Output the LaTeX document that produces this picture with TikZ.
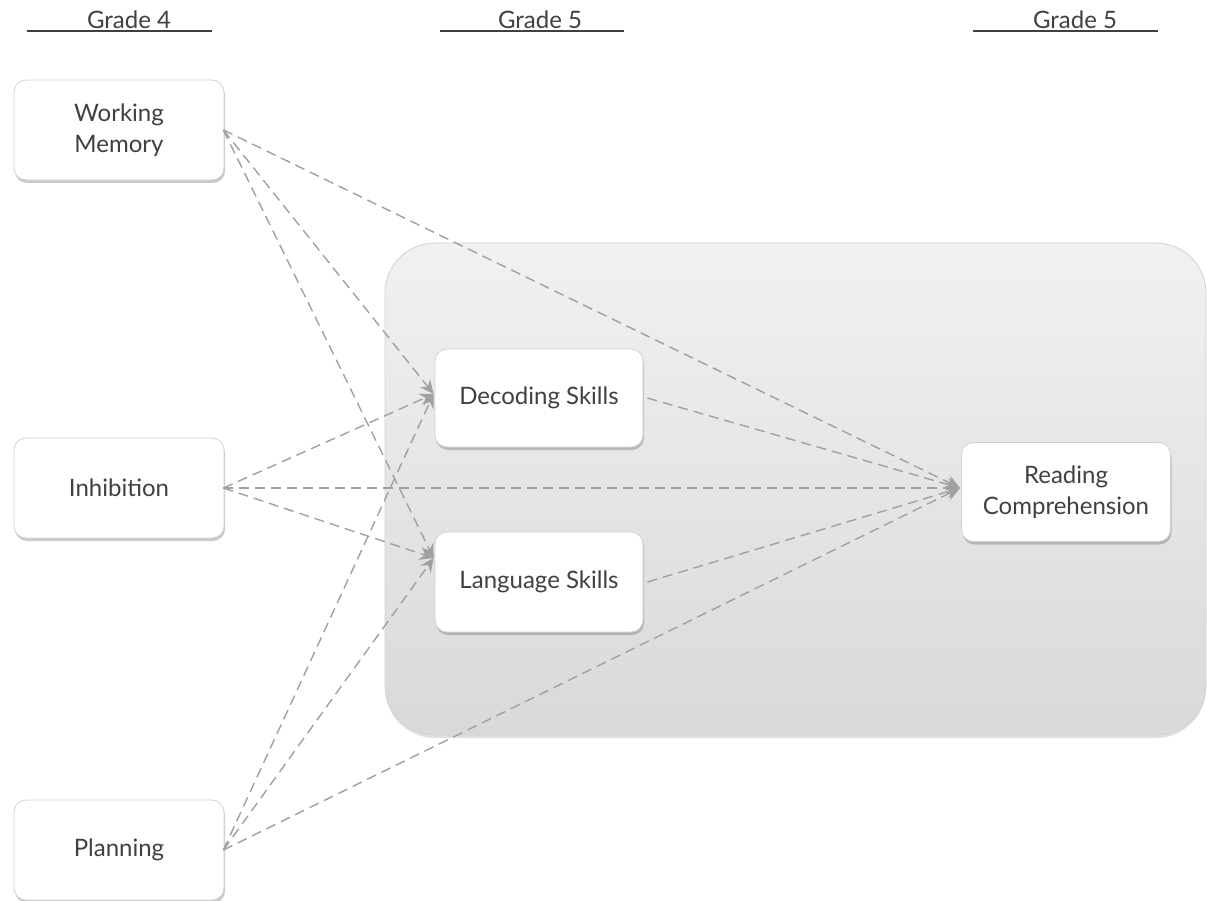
\documentclass[tikz,border=0pt]{standalone}
\usepackage{fontspec}
\setmainfont{Lato}
\usetikzlibrary{arrows.meta,shadows,backgrounds}

\definecolor{txt}{HTML}{404040}
\definecolor{edge}{HTML}{A0A0A0}
\definecolor{boxline}{HTML}{D2D2D2}
\definecolor{paneltop}{HTML}{F1F1F1}
\definecolor{panelbot}{HTML}{D9D9D9}

\tikzset{
  varbox/.style={draw=boxline, line width=0.8pt, fill=white,
    rounded corners=12pt, minimum width=210pt, minimum height=100pt,
    align=center, text=txt, font=\fontsize{24}{31}\selectfont,
    drop shadow={shadow xshift=1pt, shadow yshift=-3pt, opacity=0.35, fill=black!60}},
  path/.style={draw=edge, line width=1.4pt, dash pattern=on 10pt off 6pt,
    -{Stealth[length=14pt, width=13pt, inset=5pt]}},
  grade/.style={text=txt, font=\fontsize{24}{29}\selectfont, anchor=base},
  rule/.style={draw=black!75, line width=1.4pt}
}

\begin{document}
\begin{tikzpicture}[x=1pt, y=-1pt]
  \useasboundingbox (0,0) rectangle (1207,901);

  % grade headings with their rules
  \node[grade] (g4) at (129,29) {Grade 4};
  \node[grade] (g5a) at (540,29) {Grade 5};
  \node[grade] (g5b) at (1075,29) {Grade 5};
  \draw[rule] (27,31) coordinate (g4l) -- (212,31) coordinate (g4r);
  \draw[rule] (440,31) coordinate (g5al) -- (624,31) coordinate (g5ar);
  \draw[rule] (973,31) coordinate (g5bl) -- (1158,31) coordinate (g5br);

  % grade 4 predictors
  \node[varbox] (wm)   at (119,130) {Working\\Memory};
  \node[varbox] (inh)  at (119,488) {Inhibition};
  \node[varbox] (plan) at (119,850) {Planning};

  % grade 5 mediators and outcome
  \node[varbox, minimum width=208pt, minimum height=98pt] (dec)  at (539,398) {Decoding Skills};
  \node[varbox, minimum width=208pt, minimum height=100pt] (lang) at (539,582) {Language Skills};
  \node[varbox, minimum width=209pt, minimum height=99pt] (rc)  at (1066,492) {Reading\\Comprehension};

  % shaded panel behind the grade 5 measures
  \begin{scope}[on background layer]
    \draw[draw=boxline, line width=0.8pt, rounded corners=50pt,
      top color=paneltop, bottom color=panelbot,
      drop shadow={shadow xshift=0pt, shadow yshift=-3pt, opacity=0.25, fill=black!50}]
      (385,243) rectangle (1206,735);
  \end{scope}

  % paths
  \coordinate (decin)  at ([xshift=-1pt,yshift=4pt]dec.west);
  \coordinate (langin) at ([xshift=-1pt,yshift=24pt]lang.west);
  \coordinate (rcin)   at ([xshift=-1pt,yshift=4pt]rc.west);

  \foreach \s in {wm,inh,plan} {
    \draw[path] ([xshift=-1pt]\s.east) -- (decin);
    \draw[path] ([xshift=-1pt]\s.east) -- (langin);
    \draw[path] ([xshift=-1pt]\s.east) -- (rcin);
  }
  \draw[path] ([xshift=4pt]dec.east) -- (rcin);
  \draw[path] ([xshift=4pt]lang.east) -- (rcin);
\end{tikzpicture}
\end{document}
